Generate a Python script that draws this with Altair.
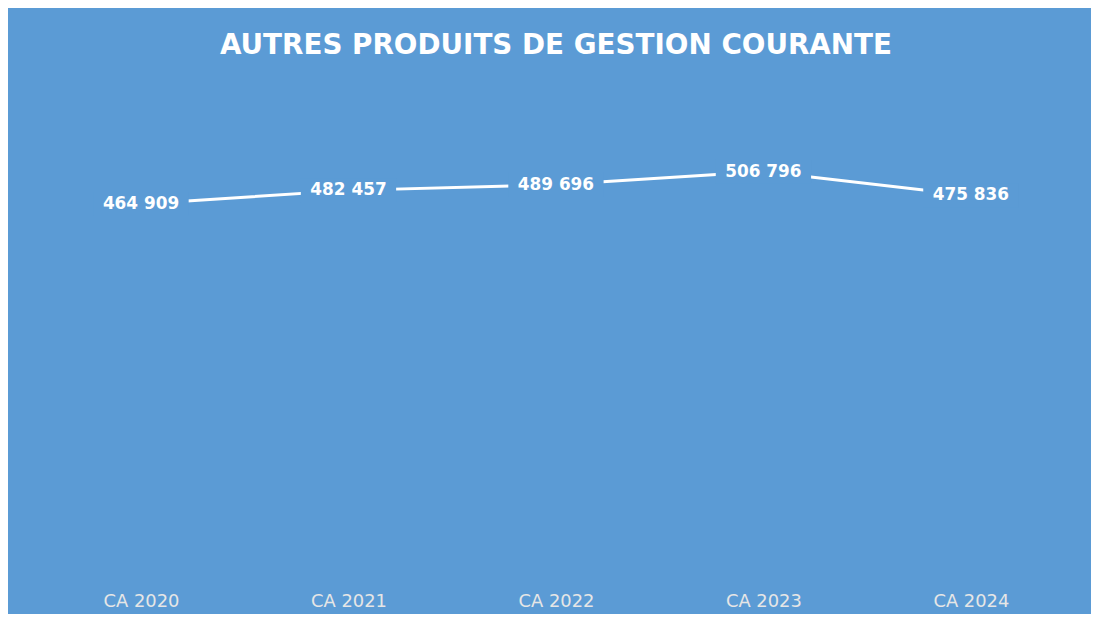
import altair as alt
import pandas as pd

categories = ["CA 2020", "CA 2021", "CA 2022", "CA 2023", "CA 2024"]
values = [464909, 482457, 489696, 506796, 475836]
labels = [f"{v:,}".replace(",", " ") for v in values]

df = pd.DataFrame({"cat": categories, "val": values, "lab": labels})

BG = "#5B9BD5"

x = alt.X("cat:N", sort=categories, title=None,
          axis=alt.Axis(labelAngle=0, ticks=False, tickSize=0, domain=False,
                        labelPadding=30, labelFont="DejaVu Sans",
                        labelFontSize=18, labelColor="#E6E6E6", grid=False))
y = alt.Y("val:Q", scale=alt.Scale(domain=[0, 600000], nice=False, zero=True),
          axis=None)

base = alt.Chart(df).encode(x=x, y=y)

line = base.mark_line(color="white", strokeWidth=3)
boxes = base.mark_point(shape="M-1,-0.25L1,-0.25L1,0.25L-1,0.25Z", filled=True,
                        color=BG, opacity=1, size=9216)
text = base.mark_text(font="DejaVu Sans", fontWeight="bold", fontSize=17,
                      color="white", baseline="middle", align="center").encode(text="lab:N")

chart = alt.layer(line, boxes, text).properties(
    width=1045,
    height=467,
    background=BG,
    padding={"left": 29.5, "top": 90, "right": 16.5, "bottom": 49},
    autosize=alt.AutoSizeParams(type="none"),
    title=alt.TitleParams(
        "AUTRES PRODUITS DE GESTION COURANTE",
        font="DejaVu Sans", fontWeight="bold", fontSize=28, color="white",
        anchor="middle", baseline="alphabetic", offset=18,
    ),
).configure_view(stroke=None)

chart.save("out.html", embed_options={"renderer": "svg", "actions": False})
